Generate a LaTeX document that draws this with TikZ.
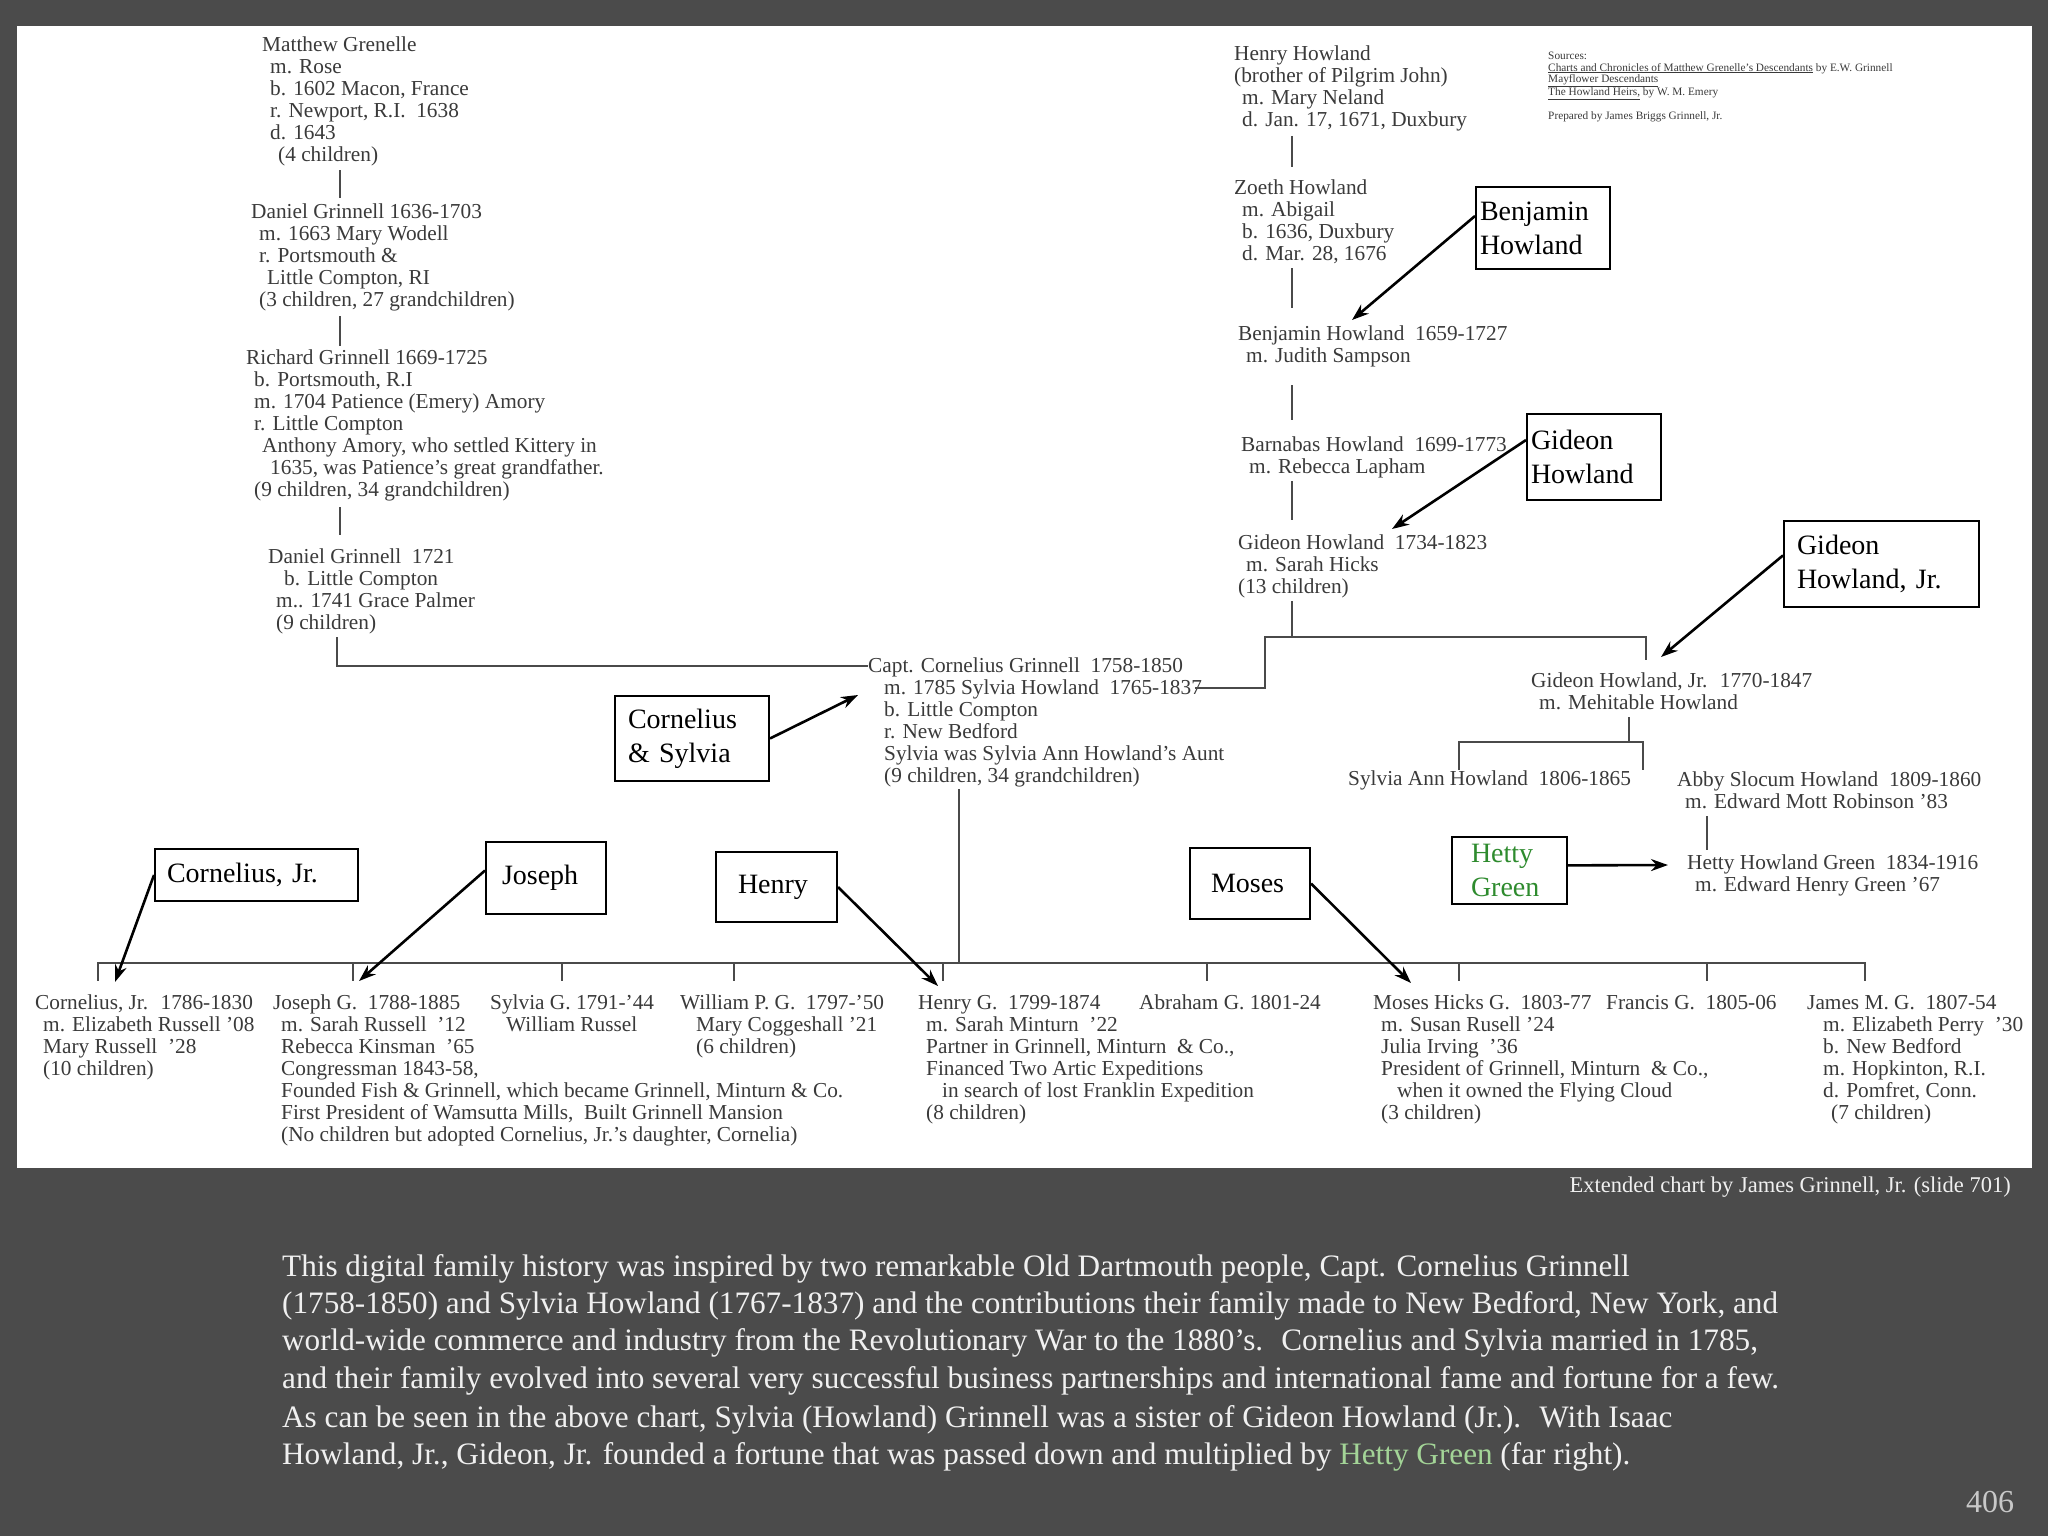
\documentclass[tikz,border=0pt]{standalone}
\usepackage{fontspec}
\setmainfont{Liberation Serif}
\usetikzlibrary{arrows.meta}

\definecolor{slidebg}{HTML}{4B4B4B}
\definecolor{charttext}{HTML}{3A3A3A}
\definecolor{treeline}{HTML}{4A4A4A}
\definecolor{bodytext}{HTML}{F0F0F0}
\definecolor{hettylight}{HTML}{A3D497}
\definecolor{hettydark}{HTML}{2E8B2E}
\definecolor{pagenum}{HTML}{C8C8C8}

\newcommand{\chartfont}{\fontsize{21.3}{22}\selectfont}
\newcommand{\boxfont}{\fontsize{28}{34}\selectfont}
\newcommand{\srcfont}{\fontsize{11.3}{11.4}\selectfont}
\newcommand{\bodyfont}{\fontsize{31.2}{37.3}\selectfont}
\newcommand{\inA}{\hspace*{8pt}}
\newcommand{\inB}{\hspace*{16pt}}

\begin{document}
\begin{tikzpicture}[x=1pt,y=-1pt,
    entry/.style={anchor=north west, inner sep=0pt, align=left, text=charttext, font=\chartfont},
    callout/.style={draw=black, line width=2pt, fill=white, inner ysep=0pt, font=\boxfont, align=left},
    link/.style={draw=treeline, line width=2.6pt},
    pointer/.style={black, line width=2.6pt, -{Stealth[length=17pt,width=12pt]}}]

    % Slide and chart sheet
    \useasboundingbox (0,0) rectangle (2048,1536);
    \fill[slidebg] (0,0) rectangle (2048,1536);
    \fill[white] (17,26) rectangle (2032,1168);

    % Left column: Grinnell line
    \node[entry] (matthew) at (262,37) {Matthew Grenelle\\ \inA m. Rose\\ \inA b. 1602 Macon, France\\ \inA r. Newport, R.I.~ 1638\\ \inA d. 1643\\ \inB(4 children)};
    \node[entry] (daniel) at (251,204) {Daniel Grinnell 1636-1703\\ \inA m. 1663 Mary Wodell\\ \inA r. Portsmouth \&\\ \inB Little Compton, RI\\ \inA(3 children, 27 grandchildren)};
    \node[entry] (richard) at (246,350) {Richard Grinnell 1669-1725\\ \inA b. Portsmouth, R.I\\ \inA m. 1704 Patience (Emery) Amory\\ \inA r. Little Compton\\ \inB Anthony Amory, who settled Kittery in\\ \inB\inA 1635, was Patience's great grandfather.\\ \inA(9 children, 34 grandchildren)};
    \node[entry] (daniel2) at (268,549) {Daniel Grinnell~ 1721\\ \inB b. Little Compton\\ \inA m.. 1741 Grace Palmer\\ \inA(9 children)};

    % Right column: Howland line
    \node[entry] (henryh) at (1234,46) {Henry Howland\\(brother of Pilgrim John)\\ \inA m. Mary Neland\\ \inA d. Jan. 17, 1671, Duxbury};
    \node[entry] (zoeth) at (1234,180) {Zoeth Howland\\ \inA m. Abigail\\ \inA b. 1636, Duxbury\\ \inA d. Mar. 28, 1676};
    \node[entry] (benjamin) at (1238,326) {Benjamin Howland~ 1659-1727\\ \inA m. Judith Sampson};
    \node[entry] (barnabas) at (1241,437) {Barnabas Howland~ 1699-1773\\ \inA m. Rebecca Lapham};
    \node[entry] (gideon) at (1238,535) {Gideon Howland~ 1734-1823\\ \inA m. Sarah Hicks\\(13 children)};
    \node[entry] (gideonjr) at (1531,673) {Gideon Howland, Jr.~ 1770-1847\\ \inA m. Mehitable Howland};
    \node[entry] (sylviaann) at (1348,771) {Sylvia Ann Howland~ 1806-1865};
    \node[entry] (abby) at (1677,772) {Abby Slocum Howland~ 1809-1860\\ \inA m. Edward Mott Robinson '83};
    \node[entry] (hetty) at (1687,855) {Hetty Howland Green~ 1834-1916\\ \inA m. Edward Henry Green '67};

    % Sources
    \node[entry, font=\srcfont] (sources) at (1548,52) {Sources:\\ \underline{Charts and Chronicles of Matthew Grenelle's Descendants} by E.W. Grinnell\\ \underline{Mayflower Descendants}\\ \underline{The Howland Heirs,} by W. M. Emery\\[11pt] Prepared by James Briggs Grinnell, Jr.};

    % Capt. Cornelius and Sylvia
    \node[entry] (capt) at (868,658) {Capt. Cornelius Grinnell~ 1758-1850\\ \inB m. 1785 Sylvia Howland~ 1765-1837\\ \inB b. Little Compton\\ \inB r. New Bedford\\ \inB Sylvia was Sylvia Ann Howland's Aunt\\ \inB(9 children, 34 grandchildren)};

    % Their children
    \node[entry] (cornjr) at (35,995) {Cornelius, Jr.~ 1786-1830\\ \inA m. Elizabeth Russell '08\\ \inA Mary Russell~ '28\\ \inA(10 children)};
    \node[entry] (joseph) at (273,995) {Joseph G.~ 1788-1885\\ \inA m. Sarah Russell~ '12\\ \inA Rebecca Kinsman~ '65\\ \inA Congressman 1843-58,\\ \inA Founded Fish \& Grinnell, which became Grinnell, Minturn \& Co.\\ \inA First President of Wamsutta Mills,~ Built Grinnell Mansion\\ \inA(No children but adopted Cornelius, Jr.'s daughter, Cornelia)};
    \node[entry] (sylviag) at (490,995) {Sylvia G. 1791-'44\\ \inB William Russel};
    \node[entry] (william) at (680,995) {William P. G.~ 1797-'50\\ \inB Mary Coggeshall '21\\ \inB(6 children)};
    \node[entry] (henryg) at (918,995) {Henry G.~ 1799-1874\\ \inA m. Sarah Minturn~ '22\\ \inA Partner in Grinnell, Minturn~ \& Co.,\\ \inA Financed Two Artic Expeditions\\ \inB\inA in search of lost Franklin Expedition\\ \inA(8 children)};
    \node[entry] (abraham) at (1139,995) {Abraham G. 1801-24};
    \node[entry] (moses) at (1373,995) {Moses Hicks G.~ 1803-77\\ \inA m. Susan Rusell '24\\ \inA Julia Irving~ '36\\ \inA President of Grinnell, Minturn~ \& Co.,\\ \inB\inA when it owned the Flying Cloud\\ \inA(3 children)};
    \node[entry] (francis) at (1606,995) {Francis G.~ 1805-06};
    \node[entry] (james) at (1807,995) {James M. G.~ 1807-54\\ \inB m. Elizabeth Perry~ '30\\ \inB b. New Bedford\\ \inB m. Hopkinton, R.I.\\ \inB d. Pomfret, Conn.\\ \inB\inA(7 children)};

    % Tree lines, left
    \coordinate (l1) at (340,170); \coordinate (l2) at (340,198);
    \coordinate (l3) at (340,316); \coordinate (l4) at (340,346);
    \coordinate (l5) at (340,507); \coordinate (l6) at (340,535);
    \coordinate (l7) at (337,637); \coordinate (l8) at (337,666);
    \draw[link] (l1) -- (l2);
    \draw[link] (l3) -- (l4);
    \draw[link] (l5) -- (l6);
    \draw[link] (l7) -- (l8) -- (capt.west |- l8);

    % Tree lines, right
    \coordinate (r1) at (1292,136); \coordinate (r2) at (1292,167);
    \coordinate (r3) at (1292,268); \coordinate (r4) at (1292,308);
    \coordinate (r5) at (1292,385); \coordinate (r6) at (1292,420);
    \coordinate (r7) at (1292,481); \coordinate (r8) at (1292,520);
    \coordinate (r9) at (1292,601); \coordinate (r10) at (1292,637);
    \draw[link] (r1) -- (r2);
    \draw[link] (r3) -- (r4);
    \draw[link] (r5) -- (r6);
    \draw[link] (r7) -- (r8);
    \draw[link] (r9) -- (r10);
    \coordinate (gb) at (1265,637); \coordinate (ge) at (1646,637);
    \draw[link] (1195,688) -- (1265,688) -- (gb) -- (ge) -- (1646,660);

    % Gideon Jr. to daughters, Abby to Hetty
    \coordinate (g1) at (1629,717); \coordinate (g2) at (1629,742);
    \draw[link] (g1) -- (g2);
    \draw[link] (1459,770) -- (1459,742) -- (1643,742) -- (1643,770);
    \draw[link] (1707,816) -- (1707,850);

    % Capt. Cornelius to his children
    \coordinate (c1) at (959,789); \coordinate (c2) at (959,963);
    \draw[link] (c1) -- (c2);
    \draw[link] (98,963) -- (1865,963);
    \foreach \tx in {98,353,562,734,943,1207,1459,1707,1865}
        \draw[link] (\tx,962) -- (\tx,981);

    % Callout boxes
    \node[callout, inner xsep=4pt, text width=126pt, minimum height=82pt] (bxbenj) at (1543,228) {Benjamin\\Howland};
    \node[callout, inner xsep=4pt, text width=126pt, minimum height=86pt] (bxgid) at (1594,457) {Gideon\\Howland};
    \node[callout, inner xsep=13pt, text width=169pt, minimum height=86pt] (bxgidjr) at (1881.5,564) {Gideon\\Howland, Jr.};
    \node[callout, inner xsep=13pt, text width=128pt, minimum height=85pt] (bxcs) at (692,738.5) {Cornelius\\\& Sylvia};
    \node[callout, inner xsep=12pt, text width=179pt, minimum height=52pt] (bxcornjr) at (256.5,875) {Cornelius, Jr.};
    \node[callout, inner xsep=16pt, text width=88pt, minimum height=72pt] (bxjoseph) at (546,878) {Joseph};
    \node[callout, inner xsep=22pt, text width=77pt, minimum height=70pt] (bxhenry) at (776.5,887) {Henry};
    \node[callout, inner xsep=21pt, text width=78pt, minimum height=71pt] (bxmoses) at (1250,883.5) {Moses};
    \node[callout, inner xsep=19pt, text width=77pt, minimum height=67pt, text=hettydark] (bxhetty) at (1509.5,870.5) {Hetty\\Green};

    % Arrow targets
    \coordinate (tbenj) at (1352,320);
    \coordinate (tgid) at (1392,529);
    \coordinate (tgidjr) at (1661,657);
    \coordinate (tcs) at (858,695);
    \coordinate (tcornjr) at (115,982);
    \coordinate (tjoseph) at (359,981);
    \coordinate (thenry) at (938,986);
    \coordinate (tmoses) at (1411,983);
    \coordinate (thetty) at (1668,865);

    \draw[pointer] (bxbenj.170) -- (tbenj);
    \draw[pointer] (bxgid.166) -- (tgid);
    \draw[pointer] (bxgidjr.175) -- (tgidjr);
    \draw[pointer] (bxcs.east) -- (tcs);
    \draw[pointer] (bxcornjr.west) -- (tcornjr);
    \draw[pointer] (bxjoseph.173) -- (tjoseph);
    \draw[pointer] (bxhenry.east) -- (thenry);
    \draw[pointer] (bxmoses.east) -- (tmoses);
    \draw[pointer] (bxhetty.5) -- (thetty);

    % Caption, text and slide number
    \node[anchor=east, inner sep=0pt, text=bodytext, font=\fontsize{22.5}{26}\selectfont] (credit) at (2011,1187) {Extended chart by James Grinnell, Jr. (slide 701)};
    \node[anchor=north west, inner sep=0pt, align=left, text=bodytext, font=\bodyfont] (story) at (282,1254) {This digital family history was inspired by two remarkable Old Dartmouth people, Capt. Cornelius Grinnell\\(1758-1850) and Sylvia Howland (1767-1837) and the contributions their family made to New Bedford, New York, and\\world-wide commerce and industry from the Revolutionary War to the 1880’s.~ Cornelius and Sylvia married in 1785,\\and their family evolved into several very successful business partnerships and international fame and fortune for a few.\\[2pt]As can be seen in the above chart, Sylvia (Howland) Grinnell was a sister of Gideon Howland (Jr.).~ With Isaac\\Howland, Jr., Gideon, Jr. founded a fortune that was passed down and multiplied by \textcolor{hettylight}{Hetty Green} (far right).};
    \node[text=pagenum, inner sep=0pt, font=\fontsize{32}{36}\selectfont] (slideno) at (1990,1502) {406};
\end{tikzpicture}
\end{document}
